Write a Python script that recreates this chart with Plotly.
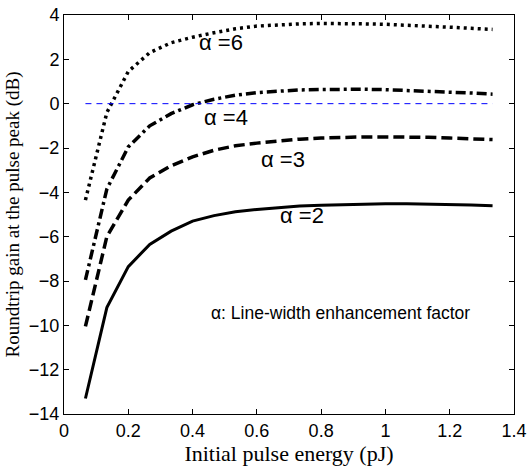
import plotly.graph_objects as go

# pulse energy grid (pJ)
energy = [0.0667, 0.1333, 0.2, 0.2667, 0.3333, 0.4, 0.4667, 0.5333, 0.6, 0.6667,
          0.7333, 0.8, 0.8667, 0.9333, 1.0, 1.0667, 1.1333, 1.2, 1.2667, 1.3333]

# roundtrip gain at the pulse peak (dB)
gain_a2 = [-13.3, -9.2, -7.35, -6.35, -5.75, -5.3, -5.05, -4.88, -4.77, -4.68,
           -4.62, -4.58, -4.55, -4.53, -4.52, -4.52, -4.53, -4.55, -4.57, -4.6]
gain_a3 = [-10.05, -6.0, -4.35, -3.35, -2.8, -2.4, -2.1, -1.9, -1.78, -1.68,
           -1.6, -1.55, -1.52, -1.5, -1.5, -1.5, -1.52, -1.55, -1.58, -1.62]
gain_a4 = [-7.95, -3.85, -1.95, -1.0, -0.45, -0.05, 0.2, 0.38, 0.5, 0.57,
           0.62, 0.64, 0.65, 0.65, 0.63, 0.6, 0.56, 0.52, 0.48, 0.43]
gain_a6 = [-4.35, -0.4, 1.45, 2.3, 2.75, 3.0, 3.2, 3.38, 3.5, 3.56,
           3.6, 3.62, 3.62, 3.6, 3.58, 3.55, 3.5, 3.45, 3.4, 3.35]

zero_line_x = [0.0667, 1.3333]
zero_line_y = [0, 0]

curve_labels = ['α =2', 'α =3', 'α =4', 'α =6']
label_x = [0.739, 0.68, 0.505, 0.489]
label_y = [-5.06, -2.54, -0.62, 2.75]

SANS = 'Liberation Sans, Arial'
SERIF = 'Liberation Serif, Times New Roman'

fig = go.Figure()

styles = [
    (gain_a2, 'solid', 3),
    (gain_a3, '11px,5px', 3.5),
    (gain_a4, '10px,4px,3px,4px', 3.5),
    (gain_a6, '3px,4px', 3.5),
]
for ys, dash, w in styles:
    fig.add_trace(go.Scatter(
        x=energy, y=ys, mode='lines',
        line=dict(color='black', width=w, dash=dash),
        showlegend=False,
    ))

# 0 dB reference
fig.add_trace(go.Scatter(
    x=zero_line_x, y=zero_line_y, mode='lines',
    line=dict(color='#0000ff', width=1, dash='6px,5px'),
    showlegend=False,
))

for t, lx, ly in zip(curve_labels, label_x, label_y):
    fig.add_annotation(x=lx, y=ly, text=t, showarrow=False,
                       font=dict(family=SANS, size=22, color='black'))

fig.add_annotation(x=0.86, y=-9.45, text='α: Line-width enhancement factor',
                   showarrow=False,
                   font=dict(family=SANS, size=17.5, color='black'))

axis_common = dict(
    showgrid=False, zeroline=False, showline=True, linecolor='black', linewidth=1,
    mirror='ticks', ticks='inside', ticklen=5, tickcolor='black', automargin=False,
    ticklabeloverflow='allow',
    tickfont=dict(family=SANS, size=18, color='black'),
)

fig.update_xaxes(range=[0, 1.4], dtick=0.2, **axis_common,
                 title=dict(text='Initial pulse energy (pJ)', standoff=6,
                            font=dict(family=SERIF, size=22, color='black')))
fig.update_yaxes(range=[-14, 4], dtick=2, **axis_common,
                 title=dict(text='Roundtrip gain at the pulse peak (dB)', standoff=4,
                            font=dict(family=SERIF, size=19, color='black')))

fig.update_layout(
    width=529, height=475,
    margin=dict(l=64, r=15, t=15, b=61),
    plot_bgcolor='white', paper_bgcolor='white',
)

# drop the default 8px page margin so the figure sits flush in the window
fig.write_html('out.html', config={'displayModeBar': False},
               post_script="document.body.style.margin='0';document.body.style.overflow='hidden';")
